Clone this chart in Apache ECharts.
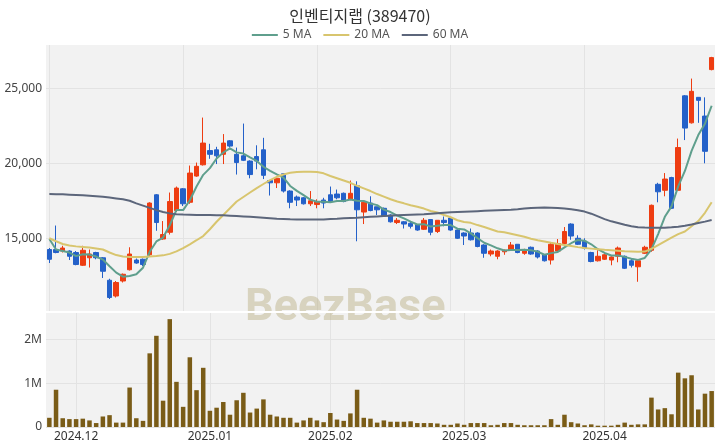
<!DOCTYPE html>
<html><head><meta charset="utf-8">
<script src="https://cdn.jsdelivr.net/npm/echarts@6/dist/echarts.min.js"></script>
<style>html,body{margin:0;padding:0;background:#fff}#c{width:720px;height:448px}</style>
</head><body><div id="c"></div>
<script>
const dates = [
'2024-11-26','2024-11-27','2024-11-28','2024-11-29',
'2024-12-02','2024-12-03','2024-12-04','2024-12-05','2024-12-06',
'2024-12-09','2024-12-10','2024-12-11','2024-12-12','2024-12-13',
'2024-12-16','2024-12-17','2024-12-18','2024-12-19','2024-12-20',
'2024-12-23','2024-12-24','2024-12-26','2024-12-27','2024-12-30',
'2025-01-02','2025-01-03',
'2025-01-06','2025-01-07','2025-01-08','2025-01-09','2025-01-10',
'2025-01-13','2025-01-14','2025-01-15','2025-01-16','2025-01-17',
'2025-01-20','2025-01-21','2025-01-22','2025-01-23','2025-01-24',
'2025-01-31',
'2025-02-03','2025-02-04','2025-02-05','2025-02-06','2025-02-07',
'2025-02-10','2025-02-11','2025-02-12','2025-02-13','2025-02-14',
'2025-02-17','2025-02-18','2025-02-19','2025-02-20','2025-02-21',
'2025-02-24','2025-02-25','2025-02-26','2025-02-27','2025-02-28',
'2025-03-03','2025-03-04','2025-03-05','2025-03-06','2025-03-07',
'2025-03-10','2025-03-11','2025-03-12','2025-03-13','2025-03-14',
'2025-03-17','2025-03-18','2025-03-19','2025-03-20','2025-03-21',
'2025-03-24','2025-03-25','2025-03-26','2025-03-27','2025-03-28',
'2025-03-31',
'2025-04-01','2025-04-02','2025-04-03','2025-04-04',
'2025-04-07','2025-04-08','2025-04-09','2025-04-10','2025-04-11',
'2025-04-14','2025-04-15','2025-04-16','2025-04-17','2025-04-18',
'2025-04-21','2025-04-22','2025-04-23'];

const opens = [14250,14250,14150,14150,14050,13200,13700,14050,13700,12200,
11150,12150,12900,13550,13600,13900,17900,14950,15400,16850,
18300,17400,19150,19900,20850,20900,20600,21500,20600,20500,
20150,20450,20900,18850,18700,19300,18150,17750,17700,17300,
17250,17550,17900,17950,18000,17600,18500,16750,17350,17100,
17000,16550,16050,16100,16000,15900,15600,16250,15450,16200,
16350,15550,15350,15350,15350,14550,13950,13800,14100,14200,
14600,14000,14400,14150,13900,13550,14150,14650,15950,15000,
14800,14050,13500,13600,13550,13800,13800,13500,13100,14000,
14200,18600,18200,19050,18200,24500,22700,24400,23150,26250];

const closes = [13600,14050,14350,13800,13250,14200,13950,13700,12800,11050,
12050,12600,13950,13350,13250,17350,16050,15250,17450,18350,
17300,19350,19800,21350,20600,20500,21350,21150,20050,20200,
19250,20150,19200,18700,19000,18150,17400,17550,17300,17500,
17450,17350,17450,17700,17450,18000,16900,17400,16850,16900,
16500,16100,16200,15950,15800,15550,16200,15400,16200,16050,
15550,15000,15150,14900,14450,14000,14150,14150,14200,14550,
14050,14250,13950,13750,13500,14600,14650,15450,15150,14600,
14350,13450,13800,13900,13750,14350,13000,13200,13500,14400,
17200,18100,18950,17000,21050,22350,24800,24200,20800,27050];

const lows = [13350,14000,14050,13550,13200,13150,13050,13600,12350,10950,
11050,12050,12850,13300,13150,13750,15500,14900,15250,16750,
17150,17300,19100,19850,20300,19950,19950,21050,19250,20150,
19000,19600,18950,17850,18350,18050,17000,17150,17250,17150,
17000,17000,17400,17600,17400,17550,14800,15950,16800,16550,
16500,16050,15950,15650,15650,15500,15550,15200,15350,15800,
15500,14950,14550,14850,14400,13700,13800,13600,13900,14150,
14000,13900,13900,13650,13450,13250,14100,14600,14900,14550,
14250,13400,13450,13550,13200,13400,12950,13050,12100,13950,
14100,17400,17800,16950,18200,21550,22650,22700,20000,26200];

const highs = [14350,15850,14500,14200,14150,14500,14250,14100,13750,12300,
12150,12650,14400,13650,13650,17400,17950,16150,18050,18450,
18350,19850,20050,23050,21300,21100,21950,21550,21050,22650,
20200,21200,21700,18850,19150,19350,18200,17850,17750,18150,
17600,17700,18450,18250,18050,18850,18800,17450,17800,17100,
17050,16600,16350,16150,16100,15950,16350,16250,16200,16450,
16400,15600,15400,15650,15400,14600,14250,14200,14250,14750,
14600,14300,14450,14200,13950,14750,14950,15750,16000,15200,
15000,14100,14200,14000,13800,14450,13850,13650,13550,14500,
17250,18700,19350,19100,21650,24550,25650,24400,24400,27100];

const volumes = [210000,850000,200000,180000,180000,190000,150000,90000,240000,270000,
100000,100000,900000,200000,140000,1680000,2080000,600000,2460000,1030000,
460000,1590000,840000,1350000,370000,440000,570000,280000,610000,780000,
330000,420000,630000,280000,240000,210000,210000,100000,150000,210000,
150000,110000,320000,170000,140000,310000,850000,210000,190000,100000,
150000,120000,120000,120000,130000,90000,90000,90000,80000,50000,
50000,80000,50000,90000,90000,90000,40000,50000,90000,90000,
50000,40000,40000,40000,40000,180000,50000,280000,110000,80000,
40000,60000,30000,30000,30000,50000,100000,50000,60000,60000,
670000,400000,430000,290000,1240000,1110000,1180000,400000,760000,820000];

const ma5 = [14950,14250,14150,14050,13810,13930,13910,13780,13580,13140,
12710,12440,12490,12600,13040,14100,14790,15050,15870,16890,
16880,17540,18450,19230,19680,20320,20720,20990,20730,20650,
20400,20160,19770,19500,19260,19040,18490,18160,17880,17580,
17440,17430,17410,17490,17480,17590,17500,17490,17320,17210,
16910,16750,16510,16330,16110,15920,15940,15780,15830,15880,
15880,15640,15590,15330,15010,14700,14530,14330,14190,14210,
14220,14240,14200,14110,13900,14010,14090,14390,14670,14890,
14840,14600,14270,14020,13850,13850,13760,13640,13560,13690,
14260,15280,16430,17130,18460,19490,20830,21880,22640,23840];

const ma20 = [15000,14800,14620,14520,14460,14420,14380,14320,14250,14050,
13880,13780,13750,13750,13750,13790,13820,13860,13960,14130,
14350,14600,14870,15150,15600,16100,16550,17000,17450,17750,
18050,18350,18620,18880,19100,19250,19370,19420,19430,19430,
19420,19330,19150,19000,18850,18700,18500,18330,18150,17950,
17780,17600,17450,17330,17200,17100,16980,16820,16720,16550,
16400,16200,16080,16030,15880,15750,15600,15450,15400,15300,
15200,15100,14970,14870,14790,14700,14620,14550,14480,14410,
14350,14310,14270,14230,14200,14170,14140,14120,14100,14110,
14300,14550,14800,15050,15280,15450,15800,16150,16700,17400];

const ma60 = [17950,17940,17930,17910,17890,17870,17840,17810,17770,17720,
17660,17600,17500,17330,17180,17030,16880,16750,16660,16610,
16580,16570,16560,16560,16550,16540,16530,16510,16490,16460,
16430,16400,16370,16340,16310,16290,16270,16260,16250,16250,
16250,16260,16280,16300,16330,16350,16370,16400,16430,16460,
16490,16510,16530,16550,16570,16590,16610,16640,16670,16700,
16730,16750,16770,16790,16810,16830,16850,16870,16890,16910,
16940,16980,17020,17040,17050,17040,17020,16990,16940,16870,
16780,16640,16460,16280,16130,16020,15900,15800,15740,15720,
15710,15710,15710,15730,15770,15830,15920,16020,16110,16220];

const priceTicks = [15000, 20000, 25000];
const volumeTicks = [0, 1000000, 2000000];

const upColor = '#ee3d12', downColor = '#2461c9';
const gridLine = '#e3e3e3';
const FONT = 'Noto Sans';
const isMonthStart = (i) => i > 0 && dates[i].slice(0, 7) !== dates[i - 1].slice(0, 7);
const every20 = (i) => i % 20 === 0;

const chart = echarts.init(document.getElementById('c'), null, {renderer: 'canvas'});
chart.setOption({
  animation: false,
  backgroundColor: '#ffffff',
  title: {
    text: '인벤티지랩 (389470)', left: 'center', top: 3,
    textStyle: {fontFamily: 'Noto Sans CJK KR', fontSize: 16, fontWeight: 'normal', color: '#333'}
  },
  legend: {
    top: 24, left: 'center', data: ['5 MA', '20 MA', '60 MA'],
    icon: 'rect', itemWidth: 26, itemHeight: 2, itemGap: 12,
    textStyle: {fontFamily: FONT, fontSize: 12, color: '#555'}
  },
  grid: [
    {left: 46, right: 5, top: 45, height: 266, show: true, backgroundColor: '#f2f2f2', borderWidth: 0},
    {left: 46, right: 5, top: 313, height: 114, show: true, backgroundColor: '#f2f2f2', borderWidth: 0}
  ],
  xAxis: [
    {type: 'category', gridIndex: 0, data: dates, boundaryGap: true,
     axisLine: {show: false}, axisTick: {show: false, alignWithLabel: true, interval: every20},
     axisLabel: {show: false},
     splitLine: {show: true, interval: every20, alignWithLabel: true, lineStyle: {color: gridLine}}},
    {type: 'category', gridIndex: 1, data: dates, boundaryGap: true,
     axisLine: {show: false}, axisTick: {show: false, alignWithLabel: true, interval: isMonthStart},
     axisLabel: {interval: isMonthStart, formatter: v => v.slice(0, 4) + '.' + v.slice(5, 7),
                 fontFamily: FONT, fontSize: 12, color: '#333', margin: 4},
     splitLine: {show: true, interval: isMonthStart, alignWithLabel: true, lineStyle: {color: gridLine}}}
  ],
  yAxis: [
    {type: 'value', gridIndex: 0, min: 10150, max: 27890, position: 'left',
     axisLine: {show: false}, axisTick: {show: false, customValues: priceTicks},
     axisLabel: {customValues: priceTicks, formatter: v => v.toLocaleString('en-US'),
                 fontFamily: FONT, fontSize: 12, color: '#444', margin: 4},
     splitLine: {show: true, lineStyle: {color: gridLine}}},
    {type: 'value', gridIndex: 1, min: 0, max: 2600000, position: 'left',
     axisLine: {show: false}, axisTick: {show: false, customValues: volumeTicks},
     axisLabel: {customValues: volumeTicks, formatter: v => v === 0 ? '0' : (v / 1000000) + 'M',
                 fontFamily: FONT, fontSize: 12, color: '#444', margin: 4},
     splitLine: {show: true, lineStyle: {color: gridLine}}}
  ],
  graphic: [
    {type: 'text', left: 245, top: 286, z: 1, silent: true,
     style: {text: 'BeezBase', font: 'bold 45px Roboto', fill: 'rgba(190,180,140,0.5)'}},
    {type: 'rect', z: 1, silent: true, shape: {x: 46, y: 311, width: 669, height: 2}, style: {fill: '#ffffff'}}
  ],
  series: [
    {type: 'candlestick', name: 'price', xAxisIndex: 0, yAxisIndex: 0, barWidth: 5,
     data: dates.map((d, i) => [opens[i], closes[i], lows[i], highs[i]]),
     itemStyle: {color: upColor, color0: downColor, borderColor: upColor, borderColor0: downColor, borderWidth: 1}},
    {type: 'line', name: '5 MA', xAxisIndex: 0, yAxisIndex: 0, data: ma5, showSymbol: false, symbol: 'none',
     color: '#5f9f8d', lineStyle: {width: 2, color: '#5f9f8d'}, z: 3},
    {type: 'line', name: '20 MA', xAxisIndex: 0, yAxisIndex: 0, data: ma20, showSymbol: false, symbol: 'none',
     color: '#d8c56e', lineStyle: {width: 2, color: '#d8c56e'}, z: 3},
    {type: 'line', name: '60 MA', xAxisIndex: 0, yAxisIndex: 0, data: ma60, showSymbol: false, symbol: 'none',
     color: '#5c667b', lineStyle: {width: 2, color: '#5c667b'}, z: 3},
    {type: 'bar', name: 'volume', xAxisIndex: 1, yAxisIndex: 1, data: volumes, barWidth: 4.5,
     itemStyle: {color: '#7a5c17'}}
  ]
});
</script>
</body></html>
